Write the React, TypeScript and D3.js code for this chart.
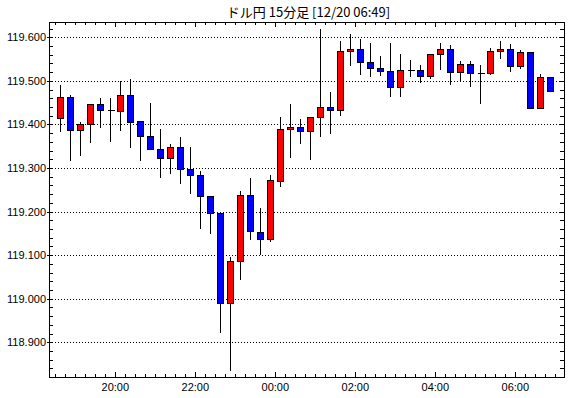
import React from 'react'
import * as d3 from 'd3'

// 15-minute candles, USD/JPY, 12/19 18:30 -> 12/20 06:45
const times = [
  '18:30', '18:45', '19:00', '19:15', '19:30', '19:45', '20:00', '20:15', '20:30', '20:45',
  '21:00', '21:15', '21:30', '21:45', '22:00', '22:15', '22:30', '22:45', '23:00', '23:15',
  '23:30', '23:45', '00:00', '00:15', '00:30', '00:45', '01:00', '01:15', '01:30', '01:45',
  '02:00', '02:15', '02:30', '02:45', '03:00', '03:15', '03:30', '03:45', '04:00', '04:15',
  '04:30', '04:45', '05:00', '05:15', '05:30', '05:45', '06:00', '06:15', '06:30', '06:45'
]
const opens = [
  119.415, 119.462, 119.388, 119.402, 119.448, 119.432, 119.43, 119.467, 119.407, 119.374,
  119.343, 119.324, 119.349, 119.297, 119.284, 119.236, 119.197, 118.991, 119.086, 119.238,
  119.153, 119.136, 119.271, 119.389, 119.395, 119.386, 119.416, 119.441, 119.432, 119.568,
  119.572, 119.544, 119.53, 119.523, 119.487, 119.526, 119.526, 119.512, 119.561, 119.572,
  119.521, 119.538, 119.519, 119.519, 119.568, 119.572, 119.535, 119.566, 119.438, 119.508
]
const highs = [
  119.49, 119.467, 119.405, 119.448, 119.46, 119.46, 119.499, 119.504, 119.407, 119.45,
  119.389, 119.354, 119.371, 119.348, 119.294, 119.236, 119.199, 119.095, 119.247, 119.278,
  119.208, 119.285, 119.418, 119.446, 119.412, 119.418, 119.619, 119.474, 119.592, 119.608,
  119.596, 119.587, 119.557, 119.587, 119.562, 119.548, 119.536, 119.561, 119.587, 119.583,
  119.545, 119.545, 119.536, 119.575, 119.592, 119.585, 119.57, 119.567, 119.515, 119.509
]
const lows = [
  119.382, 119.316, 119.327, 119.358, 119.392, 119.36, 119.385, 119.346, 119.316, 119.343,
  119.277, 119.287, 119.264, 119.241, 119.159, 119.148, 118.921, 118.835, 119.042, 119.134,
  119.1, 119.13, 119.257, 119.323, 119.356, 119.319, 119.372, 119.379, 119.42, 119.535,
  119.514, 119.51, 119.512, 119.464, 119.464, 119.51, 119.494, 119.505, 119.526, 119.491,
  119.498, 119.485, 119.448, 119.514, 119.551, 119.521, 119.528, 119.435, 119.435, 119.475
]
const closes = [
  119.462, 119.388, 119.402, 119.448, 119.432, 119.432, 119.467, 119.406, 119.374, 119.343,
  119.324, 119.349, 119.297, 119.283, 119.236, 119.197, 118.991, 119.086, 119.238, 119.155,
  119.136, 119.272, 119.389, 119.395, 119.386, 119.418, 119.441, 119.432, 119.568, 119.572,
  119.544, 119.53, 119.523, 119.487, 119.526, 119.526, 119.512, 119.561, 119.572, 119.521,
  119.538, 119.519, 119.519, 119.568, 119.572, 119.535, 119.566, 119.438, 119.508, 119.477
]
const yLabels = [118.9, 119.0, 119.1, 119.2, 119.3, 119.4, 119.5, 119.6]
const title = 'ドル円 15分足 [12/20 06:49]'

const toDate = (s: string) => {
  const [h, m] = s.split(':').map(Number)
  return new Date(2014, 11, h < 12 ? 20 : 19, h, m)
}

const width = 570,
  height = 398,
  left = 49,
  right = 564,
  top = 22,
  bottom = 377,
  slot = 10

const App = () => {
  const dates = times.map(toDate)
  const first = dates[0]
  const last = d3.timeMinute.offset(dates[dates.length - 1], 15)

  // 18:30 sits 6.3px right of the frame
  const x = d3
    .scaleTime()
    .domain([first, last])
    .range([left + 6.3, left + 6.3 + slot * dates.length])
  const tStart = x.invert(left)
  const tEnd = x.invert(right)

  const y = d3
    .scaleLinear()
    .domain([119.6, 118.9])
    .range([37.3, 342.3])
  const vTop = y.invert(top)
  const vBot = y.invert(bottom)

  const minorX = d3.timeMinute.every(15)!.range(tStart, tEnd)
  const majorX = d3.timeHour.every(2)!.range(tStart, tEnd)
  const minorY = d3.range(Math.ceil(vBot * 50), Math.floor(vTop * 50) + 1).map(d => d / 50)
  const fmt = d3.format('.3f')
  const fmtTime = d3.timeFormat('%H:%M')

  const px = (v: number) => Math.round(v) + 0.5

  return (
    <svg
      width={width}
      height={height}
      style={{ position: 'absolute', left: 0, top: 0, background: '#fff' }}
      fontFamily='"Liberation Sans", Arial, sans-serif'>
      <rect width={width} height={height} fill='#fff' />
      <text
        x={(left + right) / 2 + 2}
        y={17}
        textAnchor='middle'
        fontSize={13}
        fontFamily='"Noto Sans CJK JP", sans-serif'
        fill='#000'>
        {title}
      </text>

      {/* grid */}
      <g shapeRendering='crispEdges'>
        {yLabels.map(v => (
          <line
            key={v}
            x1={left}
            x2={right}
            y1={px(y(v))}
            y2={px(y(v))}
            stroke='#000'
            strokeDasharray='1 2'
          />
        ))}
      </g>

      {/* candles */}
      <g shapeRendering='crispEdges'>
        {dates.map((d, i) => {
          const cx = Math.round(x(d) + slot / 2) + 0.5
          const o = opens[i],
            c = closes[i]
          const yTop = Math.round(y(Math.max(o, c)))
          const yBot = Math.round(y(Math.min(o, c)))
          const fill = c > o ? '#ff0000' : c < o ? '#0000ff' : '#000'
          return (
            <g key={i}>
              <line
                x1={cx}
                x2={cx}
                y1={Math.round(y(highs[i]))}
                y2={Math.round(y(lows[i]))}
                stroke='#000'
              />
              {yBot - yTop < 1 ? (
                <line x1={cx - 3} x2={cx + 4} y1={yTop + 0.5} y2={yTop + 0.5} stroke='#000' />
              ) : (
                <rect
                  x={cx - 3}
                  y={yTop + 0.5}
                  width={6}
                  height={yBot - yTop}
                  fill={fill}
                  stroke='#000'
                />
              )}
            </g>
          )
        })}
      </g>

      {/* frame and ticks */}
      <g shapeRendering='crispEdges' stroke='#000'>
        {minorY.map(v => {
          const yy = px(y(v))
          const major = yLabels.some(l => Math.abs(l - v) < 1e-6)
          return (
            <g key={v}>
              <line x1={major ? left - 2 : left} x2={left + 4} y1={yy} y2={yy} />
              <line x1={right - 4} x2={right} y1={yy} y2={yy} />
            </g>
          )
        })}
        {minorX.map(t => {
          const xx = px(x(t))
          const major = majorX.some(m => +m === +t)
          const len = major ? 5 : 3
          return (
            <g key={+t}>
              <line x1={xx} x2={xx} y1={bottom} y2={bottom - len} />
              <line x1={xx} x2={xx} y1={top} y2={top + len} />
            </g>
          )
        })}
        <rect
          x={left + 0.5}
          y={top + 0.5}
          width={right - left}
          height={bottom - top}
          fill='none'
          strokeWidth={1.5}
        />
      </g>

      {/* labels */}
      <g fontSize={11} fill='#000'>
        {yLabels.map(v => (
          <text key={v} x={left - 3} y={y(v)} dy='0.36em' textAnchor='end'>
            {fmt(v)}
          </text>
        ))}
        {majorX.map(t => (
          <text key={+t} x={x(t)} y={391} textAnchor='middle'>
            {fmtTime(t)}
          </text>
        ))}
      </g>
    </svg>
  )
}

export default App
